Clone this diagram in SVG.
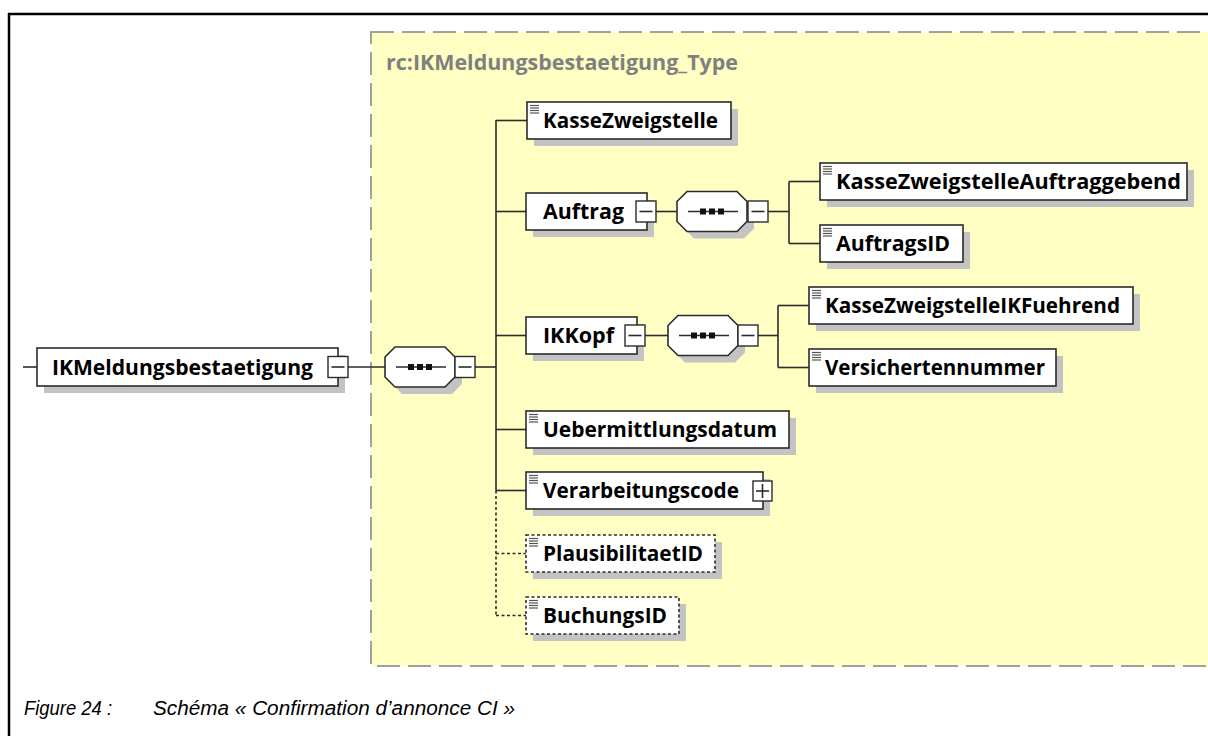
<svg xmlns="http://www.w3.org/2000/svg" xmlns:xlink="http://www.w3.org/1999/xlink" width="1208" height="736" viewBox="0 0 1208 736">
<style>
.box{fill:#fff;stroke:#2b2b2b;stroke-width:1.6}
.dbox{fill:#fff;stroke:#2b2b2b;stroke-width:1.6;stroke-dasharray:3 2.5}
.sh{fill:#c3c3c3}
.ln{stroke:#2b2b2b;stroke-width:1.6;fill:none}
.dl{stroke:#2b2b2b;stroke-width:1.6;fill:none;stroke-dasharray:3 2.5}
.lbl{font-family:"Open Sans","Noto Sans","DejaVu Sans",sans-serif;font-weight:bold;font-size:22px;fill:#000}
.ttl{font-family:"Open Sans","Noto Sans","DejaVu Sans",sans-serif;font-weight:bold;font-size:21px;fill:#808080}
.cap{font-family:"Liberation Sans",Arial,sans-serif;font-style:italic;font-size:19.5px;fill:#000}
.ic{stroke:#555;stroke-width:1.2}
.pm{fill:#fff;stroke:#2b2b2b;stroke-width:1.4}
</style>
<defs>
<g id="icon"><line class="ic" x1="3" y1="3.5" x2="12" y2="3.5"/><line class="ic" x1="3" y1="6" x2="12" y2="6"/><line class="ic" x1="3" y1="8.5" x2="12" y2="8.5"/><line class="ic" x1="3" y1="11" x2="12" y2="11"/></g>
<g id="minus"><rect class="pm" x="0" y="0" width="20" height="21"/><line class="ln" x1="3.5" y1="10.5" x2="16.5" y2="10.5"/></g>
<g id="plus"><rect class="pm" x="0" y="0" width="19" height="20"/><line class="ln" x1="3" y1="10" x2="16" y2="10"/><line class="ln" x1="9.5" y1="3" x2="9.5" y2="17"/></g>
<g id="seq">
<polygon class="sh" transform="translate(7,7)" points="10,0 60,0 70,10 70,30 60,40 10,40 0,30 0,10"/>
<polygon class="box" points="10,0 60,0 70,10 70,30 60,40 10,40 0,30 0,10"/>
<line class="ln" x1="11" y1="20" x2="61" y2="20"/>
<rect x="23" y="17" width="6" height="6" fill="#111"/><rect x="32" y="17" width="6" height="6" fill="#111"/><rect x="41" y="17" width="6" height="6" fill="#111"/>
</g>
</defs>

<!-- frame -->
<line x1="8" y1="14" x2="1208" y2="14" stroke="#000" stroke-width="2.5"/>
<line x1="9" y1="13" x2="9" y2="736" stroke="#000" stroke-width="2.5"/>

<!-- complex type area -->
<rect x="371" y="32" width="860" height="634" fill="#ffffc4" stroke="#a0a0a0" stroke-width="2" stroke-dasharray="23 8"/>
<text class="ttl" x="386" y="70" textLength="352" lengthAdjust="spacingAndGlyphs">rc:IKMeldungsbestaetigung_Type</text>

<!-- connectors -->
<g id="connectors">
<line class="ln" x1="23" y1="367" x2="37" y2="367"/>
<line class="ln" x1="347" y1="367" x2="385" y2="367"/>
<line class="ln" x1="475" y1="367" x2="496" y2="367"/>
<line class="ln" x1="496" y1="120" x2="496" y2="490.5"/>
<line class="dl" x1="496" y1="490.5" x2="496" y2="616"/>
<line class="ln" x1="496" y1="120.5" x2="527" y2="120.5"/>
<line class="ln" x1="496" y1="211.5" x2="526" y2="211.5"/>
<line class="ln" x1="496" y1="335.5" x2="526" y2="335.5"/>
<line class="ln" x1="496" y1="429.5" x2="526" y2="429.5"/>
<line class="ln" x1="496" y1="490.5" x2="526" y2="490.5"/>
<line class="dl" x1="496" y1="553.5" x2="526" y2="553.5"/>
<line class="dl" x1="496" y1="615.5" x2="526" y2="615.5"/>
<line class="ln" x1="656" y1="211.5" x2="677" y2="211.5"/>
<line class="ln" x1="768" y1="211.5" x2="789" y2="211.5"/>
<line class="ln" x1="789" y1="181.5" x2="789" y2="243.5"/>
<line class="ln" x1="789" y1="181.5" x2="820" y2="181.5"/>
<line class="ln" x1="789" y1="243.5" x2="820" y2="243.5"/>
<line class="ln" x1="645" y1="335.5" x2="668" y2="335.5"/>
<line class="ln" x1="758" y1="335.5" x2="778" y2="335.5"/>
<line class="ln" x1="778" y1="305.5" x2="778" y2="367.5"/>
<line class="ln" x1="778" y1="305.5" x2="809" y2="305.5"/>
<line class="ln" x1="778" y1="367.5" x2="809" y2="367.5"/>
</g>

<!-- root -->
<g id="node-root">
<rect class="sh" x="44" y="355" width="301" height="38"/>
<rect class="box" x="37" y="348" width="301" height="38"/>
<text class="lbl" x="52" y="375" textLength="261" lengthAdjust="spacingAndGlyphs">IKMeldungsbestaetigung</text>
<use xlink:href="#minus" x="328" y="356.5"/>
</g>
<g id="seq-root"><use xlink:href="#seq" x="385" y="347"/><use xlink:href="#minus" x="455" y="356.5"/></g>

<g id="node-KasseZweigstelle">
<rect class="sh" x="534" y="109" width="204" height="37"/>
<rect class="box" x="527" y="102" width="204" height="37"/>
<use xlink:href="#icon" x="527" y="102"/>
<text class="lbl" x="543" y="128" textLength="175" lengthAdjust="spacingAndGlyphs">KasseZweigstelle</text>
</g>

<g id="node-Auftrag">
<rect class="sh" x="533" y="200" width="121" height="37"/>
<rect class="box" x="526" y="193" width="121" height="37"/>
<text class="lbl" x="543" y="219" textLength="81" lengthAdjust="spacingAndGlyphs">Auftrag</text>
<use xlink:href="#minus" x="636" y="201"/>
</g>
<g id="seq-Auftrag"><use xlink:href="#seq" x="677" y="191.5"/><use xlink:href="#minus" x="748" y="201"/></g>

<g id="node-KasseZweigstelleAuftraggebend">
<rect class="sh" x="827" y="170" width="367" height="37"/>
<rect class="box" x="820" y="163" width="367" height="37"/>
<use xlink:href="#icon" x="820" y="163"/>
<text class="lbl" x="836" y="189" textLength="345" lengthAdjust="spacingAndGlyphs">KasseZweigstelleAuftraggebend</text>
</g>

<g id="node-AuftragsID">
<rect class="sh" x="827" y="232" width="143" height="37"/>
<rect class="box" x="820" y="225" width="143" height="37"/>
<use xlink:href="#icon" x="820" y="225"/>
<text class="lbl" x="836" y="251" textLength="114" lengthAdjust="spacingAndGlyphs">AuftragsID</text>
</g>

<g id="node-IKKopf">
<rect class="sh" x="533" y="324" width="111" height="37"/>
<rect class="box" x="526" y="317" width="111" height="37"/>
<text class="lbl" x="543" y="343" textLength="71" lengthAdjust="spacingAndGlyphs">IKKopf</text>
<use xlink:href="#minus" x="625" y="325"/>
</g>
<g id="seq-IKKopf"><use xlink:href="#seq" x="668" y="315.5"/><use xlink:href="#minus" x="738" y="325"/></g>

<g id="node-KasseZweigstelleIKFuehrend">
<rect class="sh" x="816" y="294" width="324" height="37"/>
<rect class="box" x="809" y="287" width="324" height="37"/>
<use xlink:href="#icon" x="809" y="287"/>
<text class="lbl" x="825" y="313" textLength="295" lengthAdjust="spacingAndGlyphs">KasseZweigstelleIKFuehrend</text>
</g>

<g id="node-Versichertennummer">
<rect class="sh" x="816" y="356" width="247" height="37"/>
<rect class="box" x="809" y="349" width="247" height="37"/>
<use xlink:href="#icon" x="809" y="349"/>
<text class="lbl" x="825" y="375" textLength="220" lengthAdjust="spacingAndGlyphs">Versichertennummer</text>
</g>

<g id="node-Uebermittlungsdatum">
<rect class="sh" x="533" y="418" width="263" height="37"/>
<rect class="box" x="526" y="411" width="263" height="37"/>
<use xlink:href="#icon" x="526" y="411"/>
<text class="lbl" x="543" y="437" textLength="234" lengthAdjust="spacingAndGlyphs">Uebermittlungsdatum</text>
</g>

<g id="node-Verarbeitungscode">
<rect class="sh" x="533" y="479" width="237" height="37"/>
<rect class="box" x="526" y="472" width="237" height="37"/>
<use xlink:href="#icon" x="526" y="472"/>
<text class="lbl" x="543" y="498" textLength="196" lengthAdjust="spacingAndGlyphs">Verarbeitungscode</text>
<use xlink:href="#plus" x="753" y="481"/>
</g>

<g id="node-PlausibilitaetID">
<rect class="sh" x="533" y="542" width="189" height="37"/>
<rect class="dbox" x="526" y="535" width="189" height="37"/>
<use xlink:href="#icon" x="526" y="535"/>
<text class="lbl" x="543" y="561" textLength="160" lengthAdjust="spacingAndGlyphs">PlausibilitaetID</text>
</g>

<g id="node-BuchungsID">
<rect class="sh" x="533" y="604" width="153" height="37"/>
<rect class="dbox" x="526" y="597" width="153" height="37"/>
<use xlink:href="#icon" x="526" y="597"/>
<text class="lbl" x="543" y="623" textLength="124" lengthAdjust="spacingAndGlyphs">BuchungsID</text>
</g>

<!-- caption -->
<text class="cap" x="24" y="715" textLength="88" lengthAdjust="spacingAndGlyphs">Figure 24 :</text>
<text class="cap" x="153" y="715" textLength="362" lengthAdjust="spacingAndGlyphs">Schéma « Confirmation d’annonce CI »</text>
</svg>
